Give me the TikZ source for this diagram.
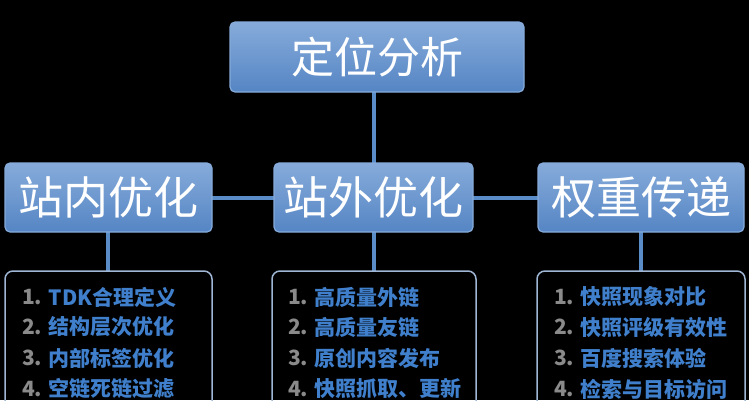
\documentclass[tikz,border=0pt]{standalone}
\usepackage{fontspec}
\setmainfont{Noto Sans CJK SC}
\begin{document}
\begin{tikzpicture}[x=1pt,y=-1pt]
\definecolor{bx}{HTML}{5585C4}
\definecolor{bxt}{HTML}{86ABDA}
\definecolor{ln}{HTML}{5A8CC8}
\definecolor{it}{HTML}{3F7FCB}
\definecolor{nm}{HTML}{8A8A8A}
\definecolor{lb}{HTML}{9FB6D4}
\tikzset{
  hbox/.style={draw=bxt, line width=1.2pt, rounded corners=5pt, top color=bxt, bottom color=bx, inner sep=0, text=white},
  lbox/.style={draw=lb, line width=1.5pt, rounded corners=8pt},
  conn/.style={draw=ln, line width=4pt},
  num/.style={color=nm, font=\fontsize{21}{21}\selectfont\bfseries, inner sep=0, anchor=west},
  itm/.style={color=it, font=\fontsize{21}{21}\selectfont\bfseries, inner sep=0, anchor=west}}
\fill[black] (0,0) rectangle (749,400);
\useasboundingbox (0,0) rectangle (749,400);
\coordinate (lt) at (108,271);
\coordinate (mt) at (374,271);
\coordinate (rt) at (641,271);
\coordinate (tb) at (374,92);
\coordinate (mtop) at (374,163);
\draw[conn] (tb) -- (mtop);
\draw[conn] (108,197.5) -- (641,197.5);
\draw[conn] (108,232) -- (lt);
\draw[conn] (374,232) -- (mt);
\draw[conn] (641,232) -- (rt);
\node[hbox, minimum width=294pt, minimum height=70pt, font=\fontsize{43}{43}\selectfont] (top) at (377,57) {定位分析};
\node[hbox, minimum width=207pt, minimum height=69pt, font=\fontsize{45}{45}\selectfont] (l) at (108.5,197.5) {站内优化};
\node[hbox, minimum width=199pt, minimum height=69pt, font=\fontsize{45}{45}\selectfont] (m) at (373.5,197.5) {站外优化};
\node[hbox, minimum width=206pt, minimum height=69pt, font=\fontsize{45}{45}\selectfont] (r) at (641,197.5) {权重传递};
\draw[lbox] (5,430) -- (5,271) -- (212,271) -- (212,430);
\draw[lbox] (272,430) -- (272,271) -- (476,271) -- (476,430);
\draw[lbox] (537,430) -- (537,271) -- (745,271) -- (745,430);
\foreach \x/\a/\b/\c/\d/\nm in {22/TDK合理定义/结构层次优化/内部标签优化/空链死链过滤/L, 288/高质量外链/高质量友链/原创内容发布/快照抓取、更新/M, 554/快照现象对比/快照评级有效性/百度搜索体验/检索与目标访问/R}{
  \foreach \n/\t/\y in {1/\a/297, 2/\b/327, 3/\c/358, 4/\d/389}{
    \node[num] (n\nm\n) at (\x,\y) {\n.};
    \node[itm] (t\nm\n) at ([xshift=6pt]n\nm\n.east) {\t};
  }
}
\end{tikzpicture}
\end{document}
